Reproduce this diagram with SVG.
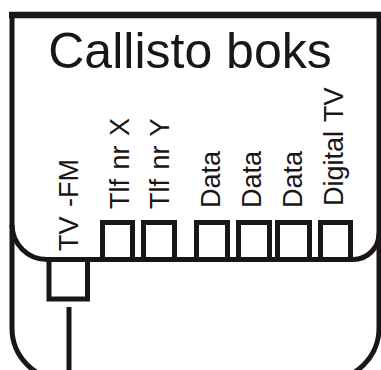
<svg xmlns="http://www.w3.org/2000/svg" width="381" height="370" viewBox="0 0 381 370">
<style>
.ln{fill:none;stroke:#1a1615;stroke-width:5}
.port{fill:none;stroke:#1a1615;stroke-width:5}
.lbl{font-family:"Liberation Sans",Arial,sans-serif;font-size:27px;fill:#1a1615;word-spacing:2px}
.title{font-family:"Liberation Sans",Arial,sans-serif;font-size:50px;fill:#1a1615}
</style>
<rect width="381" height="370" fill="#fff"/>
<g id="housing">
<path class="ln" d="M12,15 L12,328 A52,52 0 0 0 64,380 L327,380 A52,52 0 0 0 379,328 L379,15"/>
<line x1="9" y1="15" x2="381" y2="15" stroke="#1a1615" stroke-width="6.5"/>
<path class="ln" d="M12,225 A35,35 0 0 0 47,259.5 L353,259.5 A26,26 0 0 0 379,233.5"/>
</g>
<g id="title"><text class="title" x="190" y="68" text-anchor="middle">Callisto boks</text></g>
<g id="tvfm">
<rect class="port" x="49" y="259.5" width="38.5" height="39.5"/>
<text class="lbl" transform="translate(78,251) rotate(-90)">TV -FM</text>
</g>
<g id="tlfx">
<rect class="port" x="102.5" y="222.5" width="30" height="37"/>
<text class="lbl" transform="translate(129,209) rotate(-90)">Tlf nr X</text>
</g>
<g id="tlfy">
<rect class="port" x="143.5" y="222.5" width="31" height="37"/>
<text class="lbl" transform="translate(169,209) rotate(-90)">Tlf nr Y</text>
</g>
<g id="data1">
<rect class="port" x="196.5" y="222.5" width="31" height="37"/>
<text class="lbl" transform="translate(220,208) rotate(-90)">Data</text>
</g>
<g id="data2">
<rect class="port" x="238.5" y="222.5" width="31" height="37"/>
<text class="lbl" transform="translate(261,208) rotate(-90)">Data</text>
</g>
<g id="data3">
<rect class="port" x="277.5" y="222.5" width="32" height="37"/>
<text class="lbl" transform="translate(302,208) rotate(-90)">Data</text>
</g>
<g id="digitaltv">
<rect class="port" x="320.5" y="222.5" width="30" height="37"/>
<text class="lbl" transform="translate(343,206) rotate(-90)">Digital TV</text>
</g>
<g id="connectors">
<line class="ln" x1="69" y1="307" x2="69" y2="372"/>
</g>
</svg>
